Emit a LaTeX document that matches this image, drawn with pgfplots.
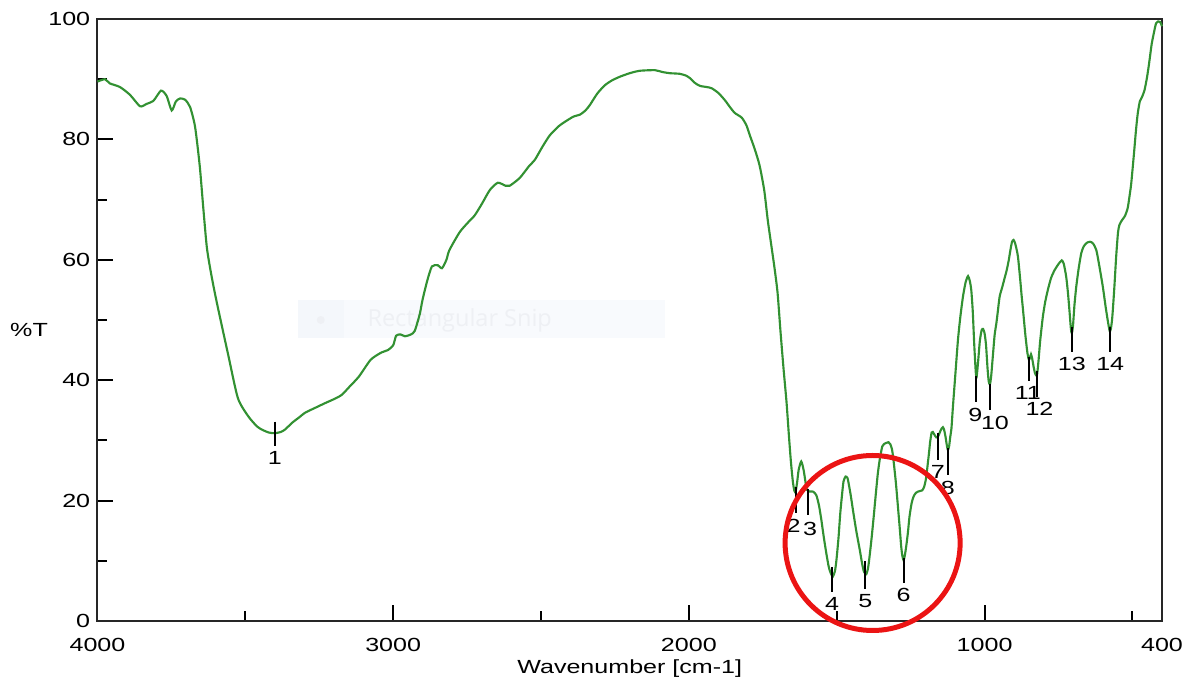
\documentclass[border=0pt]{standalone}
\usepackage{pgfplots}
\pgfplotsset{compat=1.18}
\usepackage{fontspec}
\setmainfont[FakeStretch=1.32]{Liberation Sans}
\newfontfamily\snipfont{Open Sans}
\definecolor{spec}{RGB}{50,145,50}
\definecolor{circ}{RGB}{235,20,20}
\definecolor{snipbg}{RGB}{248,250,253}
\definecolor{snipicon}{RGB}{244,247,251}
\definecolor{sniptext}{RGB}{238,240,244}
\newcommand{\lab}{\fontsize{7.6pt}{9pt}\selectfont}
\begin{document}
\begin{tikzpicture}
\path[use as bounding box] (-39pt,-23.2pt) rectangle (434.6pt,248.4pt);
\begin{axis}[
  scale only axis, width=425.8pt, height=240.8pt,
  at={(0,0)}, anchor=south west,
  x dir=reverse, xmin=400, xmax=4000, ymin=0, ymax=100,
  xtick={4000,3000,2000,1000,400}, xticklabels={4000,3000,2000,1000,400},
  minor xtick={3500,2500,1500,500},
  ytick={0,20,40,60,80,100}, minor ytick={10,30,50,70,90},
  tick pos=left, tick align=inside,
  major tick length=6.4pt, minor tick length=4pt,
  tick style={black, line width=0.8pt},
  axis line style={line width=0.8pt, black!85},
  tick label style={font=\lab},
  label style={font=\lab},
  /pgf/number format/assume math mode=true,
  xticklabel style={yshift=-3.4pt},
  yticklabel style={xshift=0.6pt},
  xlabel={Wavenumber [cm-1]},
  ylabel={\%T},
  xlabel style={at={(axis description cs:0.5,-0.079)}, anchor=center},
  ylabel style={at={(axis description cs:-0.0643,0.483)}, anchor=center, rotate=-90},
  clip=false,
]
% faint screenshot-tool watermark
\fill[snipbg] (axis cs:3322,53.3) rectangle (axis cs:2082,47.0);
\fill[snipicon] (axis cs:3322,53.3) rectangle (axis cs:3167,47.0);
\fill[sniptext] (axis cs:3245,50.0) circle[radius=1.6pt];
\node[text=sniptext, font=\snipfont\fontsize{9.4pt}{10pt}\selectfont] at (axis cs:2775,50.0) {Rectangular Snip};

\addplot[spec, line width=0.85pt, smooth, tension=0.4] coordinates {
(4000,89.6) (3975,90.0) (3958,89.3) (3924,88.7) (3890,87.4) (3856,85.5) (3834,85.9)
(3811,86.4) (3785,88.1) (3766,87.2) (3749,84.8) (3735,86.3) (3721,86.8) (3704,86.6)
(3687,85.4) (3670,82.1) (3654,75.5) (3642,68.5) (3630,62.0) (3615,57.5) (3596,52.8)
(3557,44.0) (3525,37.0) (3490,34.0) (3460,32.3) (3440,31.7) (3420,31.3) (3400,31.2)
(3380,31.4) (3366,31.8) (3340,33.0) (3316,33.9) (3298,34.6) (3260,35.5) (3230,36.2)
(3194,37.0) (3173,37.6) (3150,38.8) (3116,40.6) (3076,43.4) (3040,44.6) (3018,45.0)
(3000,45.8) (2990,47.4) (2975,47.6) (2960,47.3) (2940,47.6) (2927,48.2) (2910,51.0)
(2901,53.3) (2885,56.5) (2869,58.9) (2849,59.1) (2835,58.6) (2820,60.0) (2810,61.6)
(2775,64.6) (2745,66.3) (2724,67.4) (2700,69.3) (2673,71.6) (2646,72.8) (2620,72.3)
(2606,72.3) (2572,73.6) (2540,75.6) (2521,76.6) (2495,78.8) (2470,80.7) (2440,82.2)
(2420,82.9) (2390,83.8) (2369,84.1) (2350,84.8) (2335,85.7) (2310,87.6) (2284,89.0)
(2260,89.8) (2234,90.4) (2200,91.0) (2166,91.4) (2115,91.5) (2090,91.2) (2065,91.0)
(2031,90.9) (2010,90.6) (1997,90.2) (1980,89.4) (1963,88.9) (1940,88.7) (1923,88.5)
(1900,87.7) (1878,86.5) (1860,85.3) (1845,84.4) (1821,83.6) (1805,82.3) (1794,80.7)
(1778,78.5) (1761,75.7) (1745,71.5) (1733,66.5) (1720,62.0) (1710,58.5) (1700,54.5)
(1690,48.0) (1680,42.0) (1670,36.5) (1662,31.0) (1655,26.5) (1648,23.0) (1643,21.6)
(1639,21.5) (1634,23.0) (1628.7,25.1) (1620,26.5) (1612,25.1) (1606,23.2) (1601,21.8)
(1592,21.5) (1580,21.5) (1569,20.9) (1560,19.2) (1552,16.8) (1544,14.0) (1535,11.2)
(1527,9.0) (1520,7.9) (1513,7.4) (1506,8.3) (1501,10.1) (1494,13.8) (1488,17.9)
(1482,21.0) (1477,23.2) (1470,24.0) (1464,23.8) (1461,23.2) (1453,21.0) (1445,18.4)
(1434,15.0) (1422,11.8) (1414,9.5) (1408,8.2) (1400,7.8) (1394,8.8) (1389,10.7)
(1382,13.8) (1375,17.3) (1368,21.0) (1361,24.5) (1354,27.0) (1346,29.0) (1340,29.4)
(1332,29.6) (1325,29.7) (1319,29.4) (1313,28.5) (1308,26.7) (1300,23.0) (1293,19.0)
(1287,15.5) (1282,12.4) (1278,10.8) (1274,10.1) (1270,10.8) (1265,12.4) (1259,14.8)
(1254,17.3) (1247,19.5) (1240,20.7) (1232,21.3) (1225,21.5) (1218,21.6) (1211,21.7)
(1205,22.2) (1199,23.4) (1194,25.3) (1188,27.9) (1184,29.8) (1179,31.3) (1175,31.4)
(1169,30.9) (1163,30.5) (1158,30.6) (1154,31.0) (1150,31.5) (1145,32.0) (1141,32.2)
(1137,31.8) (1132,30.6) (1128,29.3) (1124,28.4) (1120,29.0) (1116,30.6) (1112,32.0)
(1107,35.6) (1098,41.5) (1090,46.7) (1082,50.5) (1073,53.9) (1064,56.3) (1056,57.3)
(1050,56.5) (1045,55.0) (1040,51.5) (1035,46.0) (1030,41.5) (1027,40.5) (1022,43.0)
(1016,46.5) (1010,48.3) (1005,48.5) (1000,47.8) (995,45.8) (990,42.0) (986,39.8)
(982,39.3) (978,40.5) (972,44.0) (966,47.5) (960,49.5) (955,51.5) (949,53.9)
(940,55.5) (932,57.0) (925,58.3) (918,60.0) (912,61.8) (907,63.0) (902,63.3)
(897,62.8) (892,61.8) (887,60.5) (880,57.0) (875,54.2) (870,51.7) (862,47.5)
(855,44.5) (850,43.4) (846,43.8) (843,44.3) (839,43.6) (834,42.2) (829,41.1)
(823,40.8) (818,43.0) (812,46.5) (803,50.5) (795,53.0) (786,55.0) (775,57.0)
(763,58.3) (750,59.3) (739,59.9) (732,59.3) (724,57.2) (718,54.5) (712,51.0)
(708,48.5) (705,47.8) (701,49.0) (696,52.5) (690,55.5) (682,58.5) (673,61.1)
(665,62.2) (655,62.8) (643,63.0) (633,62.7) (622,61.6) (612,59.0) (600,55.5)
(590,52.0) (582,49.5) (577,48.2) (573,48.5) (568,50.5) (561,55.5) (555,60.5)
(549,64.4) (544,65.8) (535,66.6) (525,67.3) (516,68.6) (510,70.5) (504,72.7)
(495,77.5) (488,81.5) (482,84.3) (475,86.3) (468,87.0) (459,88.2) (450,90.5)
(442,93.2) (435,95.8) (427,97.8) (420,99.3) (413,99.6) (406,99.5) (400,98.8)
};

% peak markers
\draw[black, line width=0.8pt] (axis cs:3400,33.1) -- (axis cs:3400,29.1) node[below, inner sep=0pt, yshift=-1.8pt, font=\lab] {1};
\draw[black, line width=0.8pt] (axis cs:1639,22.3) -- (axis cs:1639,17.9) node[below, inner sep=0pt, yshift=-1.8pt, xshift=-0.8pt, font=\lab] {2};
\draw[black, line width=0.8pt] (axis cs:1597,22.0) -- (axis cs:1597,17.6) node[below, inner sep=0pt, yshift=-2.4pt, xshift=0.8pt, font=\lab] {3};
\draw[black, line width=0.8pt] (axis cs:1516,9.0) -- (axis cs:1516,4.9) node[below, inner sep=0pt, yshift=-1.8pt, font=\lab] {4};
\draw[black, line width=0.8pt] (axis cs:1403,9.9) -- (axis cs:1403,5.4) node[below, inner sep=0pt, yshift=-1.8pt, font=\lab] {5};
\draw[black, line width=0.8pt] (axis cs:1274,10.5) -- (axis cs:1274,6.3) node[below, inner sep=0pt, yshift=-1.8pt, font=\lab] {6};
\draw[black, line width=0.8pt] (axis cs:1158,31.2) -- (axis cs:1158,26.7) node[below, inner sep=0pt, yshift=-1.8pt, font=\lab] {7};
\draw[black, line width=0.8pt] (axis cs:1124,28.7) -- (axis cs:1124,24.2) node[below, inner sep=0pt, yshift=-1.8pt, font=\lab] {8};
\draw[black, line width=0.8pt] (axis cs:1028,40.7) -- (axis cs:1028,36.3) node[below, inner sep=0pt, yshift=-1.8pt, xshift=-0.4pt, font=\lab] {9};
\draw[black, line width=0.8pt] (axis cs:980,39.4) -- (axis cs:980,35.0) node[below, inner sep=0pt, yshift=-1.8pt, xshift=1.8pt, font=\lab] {10};
\draw[black, line width=0.8pt] (axis cs:850,43.9) -- (axis cs:850,39.8) node[below, inner sep=0pt, yshift=-1.8pt, xshift=-0.4pt, font=\lab] {11};
\draw[black, line width=0.8pt] (axis cs:822,41.6) -- (axis cs:822,37.2) node[below, inner sep=0pt, yshift=-1.8pt, xshift=0.9pt, font=\lab] {12};
\draw[black, line width=0.8pt] (axis cs:705,48.9) -- (axis cs:705,44.7) node[below, inner sep=0pt, yshift=-1.8pt, font=\lab] {13};
\draw[black, line width=0.8pt] (axis cs:575,48.9) -- (axis cs:575,44.7) node[below, inner sep=0pt, yshift=-1.8pt, font=\lab] {14};

% red highlight circle
\draw[circ, line width=2pt] (axis cs:1378.6,12.96) circle[radius=35pt];
\end{axis}
\end{tikzpicture}
\end{document}
